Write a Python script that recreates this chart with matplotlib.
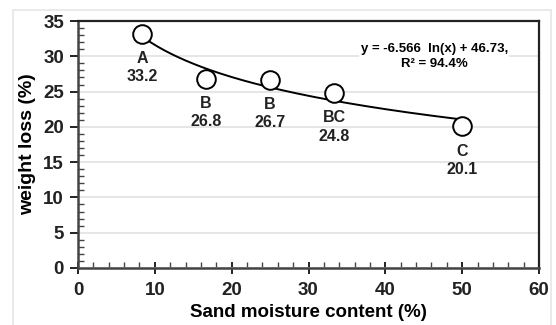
import numpy as np
import matplotlib
matplotlib.use('Agg')
import matplotlib.pyplot as plt
from matplotlib.patches import Rectangle
from matplotlib.ticker import MultipleLocator

# Data
moisture = [8.33, 16.67, 25.0, 33.33, 50.0]
weight_loss = [33.2, 26.8, 26.7, 24.8, 20.1]
groups = ['A', 'B', 'B', 'BC', 'C']
value_labels = ['33.2', '26.8', '26.7', '24.8', '20.1']

# Fitted log trend reported on the chart
fit_slope = -6.566
fit_intercept = 46.73

plt.rcParams.update({'font.family': 'Liberation Sans', 'font.weight': 'bold'})

fig = plt.figure(figsize=(5.56, 3.25), dpi=100)
ax = fig.add_axes([78 / 556, 57 / 325, 461 / 556, 247 / 325])

# light frame around the chart area
fig.patches.append(Rectangle((13 / 556, -0.01), 538 / 556, 1 - 10 / 325 + 0.01,
                             transform=fig.transFigure, fill=False,
                             edgecolor='#e6e6e6', linewidth=1.2))

# trend line
xs = np.linspace(min(moisture), max(moisture), 200)
ax.plot(xs, fit_slope * np.log(xs) + fit_intercept, color='black', linewidth=1.4, zorder=3)

ax.scatter(moisture, weight_loss, s=180, facecolors='white', edgecolors='black',
           linewidths=1.4, zorder=4)

for x, y, g, v in zip(moisture, weight_loss, groups, value_labels):
    ax.annotate(g, (x, y), xytext=(0, -18), textcoords='offset points',
                ha='center', va='center', fontsize=11.5, fontweight='bold', color='#222222')
    ax.annotate(v, (x, y), xytext=(0, -31), textcoords='offset points',
                ha='center', va='center', fontsize=11.5, fontweight='bold', color='#222222')

ax.text(0.773, 0.855, 'y = -6.566  ln(x) + 46.73,\nR² = 94.4%', transform=ax.transAxes,
        ha='center', va='center', fontsize=9.5, fontweight='bold', linespacing=1.3,
        bbox=dict(facecolor='white', edgecolor='none', pad=1), zorder=5)

ax.set_xlim(0, 60)
ax.set_ylim(0, 35)
ax.xaxis.set_major_locator(MultipleLocator(10))
ax.xaxis.set_minor_locator(MultipleLocator(2))
ax.yaxis.set_major_locator(MultipleLocator(5))
ax.yaxis.set_minor_locator(MultipleLocator(1))

ax.grid(axis='y', which='major', color='#e2e2e2', linewidth=1.2, zorder=0)
ax.set_axisbelow(True)

ax.tick_params(axis='y', which='major', direction='out', length=6, width=1.4, labelsize=13.5, colors='#222222', pad=4)
ax.tick_params(axis='y', which='minor', direction='in', length=4, width=1, colors='#444444')
ax.tick_params(axis='x', which='major', direction='inout', length=8, width=1.4, labelsize=13.5, colors='#222222', pad=6)
ax.tick_params(axis='x', which='minor', direction='in', length=4, width=1, colors='#444444')
ax.tick_params(right=False, top=False)

for side in ['left', 'bottom']:
    ax.spines[side].set_linewidth(1.8)
    ax.spines[side].set_color('#444444')
for side in ['top', 'right']:
    ax.spines[side].set_linewidth(1.6)
    ax.spines[side].set_color('#222222')

ax.set_xlabel('Sand moisture content (%)', fontsize=13.5, fontweight='bold', labelpad=4)
ax.set_ylabel('weight loss (%)', fontsize=14, fontweight='bold', labelpad=5)

fig.savefig('out.png', dpi=100)
